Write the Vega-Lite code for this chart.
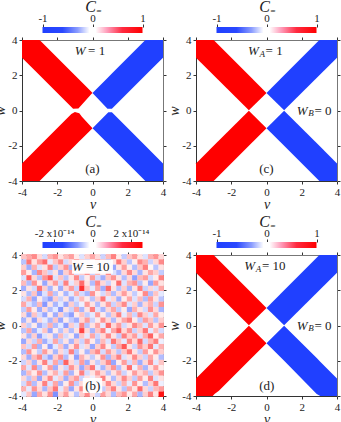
{"$schema":"https://vega.github.io/schema/vega-lite/v6.json","padding":{"left":-7,"top":-2,"right":0,"bottom":0},"background":"white","bounds":"flush","columns":2,"spacing":{"row":74,"column":33},"resolve":{"scale":{"color":"independent"}},
"config":{"view":{"stroke":null},"font":"Liberation Serif","text":{"font":"Liberation Serif","fontSize":13,"color":"#222"},"axis":{"labelFont":"Liberation Serif","titleFont":"Liberation Serif","labelFontSize":11,"labelColor":"#222","grid":false,"tickColor":"#333","domainColor":"#333","titleColor":"#222","titleFontWeight":"normal","labelFlush":false,"labelOverlap":false,"zindex":1}},
"datasets":{
"bar1":[{"lo":-1,"hi":1}],
"bar2":[{"lo":-2.6,"hi":2.6}],
"armsA":[{"arm":"UL","c":1,"v":-4,"lo":3,"hi":4},{"arm":"UL","c":1,"v":-3,"lo":2,"hi":4},{"arm":"UL","c":1,"v":-1.1,"lo":0.1,"hi":2.1},{"arm":"UL","c":1,"v":-0.8,"lo":0.12,"hi":1.8},{"arm":"UL","c":1,"v":-0.05,"lo":0.95,"hi":1.05},{"arm":"UL","c":1,"v":0,"lo":1,"hi":1},
{"arm":"LL","c":1,"v":-4,"lo":-4,"hi":-3},{"arm":"LL","c":1,"v":-3,"lo":-4,"hi":-2},{"arm":"LL","c":1,"v":-1.2,"lo":-2.2,"hi":-0.2},{"arm":"LL","c":1,"v":-1,"lo":-2,"hi":-0.08},{"arm":"LL","c":1,"v":-0.75,"lo":-1.75,"hi":-0.15},{"arm":"LL","c":1,"v":-0.6,"lo":-1.6,"hi":-0.35},{"arm":"LL","c":1,"v":0,"lo":-1,"hi":-1},
{"arm":"UR","c":-1,"v":0,"lo":1,"hi":1},{"arm":"UR","c":-1,"v":0.85,"lo":0.1,"hi":1.85},{"arm":"UR","c":-1,"v":1.1,"lo":0.1,"hi":2.1},{"arm":"UR","c":-1,"v":3,"lo":2,"hi":4},{"arm":"UR","c":-1,"v":4,"lo":3,"hi":4},
{"arm":"LR","c":-1,"v":0,"lo":-1,"hi":-1},{"arm":"LR","c":-1,"v":0.9,"lo":-1.9,"hi":-0.1},{"arm":"LR","c":-1,"v":1.1,"lo":-2.1,"hi":-0.1},{"arm":"LR","c":-1,"v":3,"lo":-4,"hi":-2},{"arm":"LR","c":-1,"v":4,"lo":-4,"hi":-3}],
"armsC":[{"arm":"UL","c":1,"v":-4,"lo":3,"hi":4},{"arm":"UL","c":1,"v":-3,"lo":2,"hi":4},{"arm":"UL","c":1,"v":-1,"lo":0.02,"hi":2},{"arm":"UL","c":1,"v":0,"lo":1,"hi":1},
{"arm":"LL","c":1,"v":-4,"lo":-4,"hi":-3},{"arm":"LL","c":1,"v":-3,"lo":-4,"hi":-2},{"arm":"LL","c":1,"v":-1,"lo":-2,"hi":-0.02},{"arm":"LL","c":1,"v":0,"lo":-1,"hi":-1},
{"arm":"UR","c":-1,"v":0,"lo":1,"hi":1},{"arm":"UR","c":-1,"v":1,"lo":0.02,"hi":2},{"arm":"UR","c":-1,"v":3,"lo":2,"hi":4},{"arm":"UR","c":-1,"v":4,"lo":3,"hi":4},
{"arm":"LR","c":-1,"v":0,"lo":-1,"hi":-1},{"arm":"LR","c":-1,"v":1,"lo":-2,"hi":-0.02},{"arm":"LR","c":-1,"v":3,"lo":-4,"hi":-2},{"arm":"LR","c":-1,"v":4,"lo":-4,"hi":-3}],
"armsD":[{"arm":"UL","c":1,"v":-4,"lo":3,"hi":4},{"arm":"UL","c":1,"v":-3,"lo":2,"hi":4},{"arm":"UL","c":1,"v":-1,"lo":0.02,"hi":2},{"arm":"UL","c":1,"v":0,"lo":1,"hi":1},
{"arm":"LL","c":1,"v":-4,"lo":-4,"hi":-3},{"arm":"LL","c":1,"v":-3.05,"lo":-4,"hi":-2.05},{"arm":"LL","c":1,"v":-2.95,"lo":-3.88,"hi":-1.95},{"arm":"LL","c":1,"v":-2.7,"lo":-3.7,"hi":-1.7},{"arm":"LL","c":1,"v":-1,"lo":-2,"hi":-0.02},{"arm":"LL","c":1,"v":0,"lo":-1,"hi":-1},
{"arm":"UR","c":-1,"v":0,"lo":1,"hi":1},{"arm":"UR","c":-1,"v":1,"lo":0.02,"hi":2},{"arm":"UR","c":-1,"v":3,"lo":2,"hi":4},{"arm":"UR","c":-1,"v":4,"lo":3,"hi":4},
{"arm":"LR","c":-1,"v":0,"lo":-1,"hi":-1},{"arm":"LR","c":-1,"v":1,"lo":-2,"hi":-0.02},{"arm":"LR","c":-1,"v":2.85,"lo":-3.88,"hi":-1.85},{"arm":"LR","c":-1,"v":3.05,"lo":-4,"hi":-2.05},{"arm":"LR","c":-1,"v":4,"lo":-4,"hi":-3}],
"labels":[
{"p":"a","k":"i","v":-0.7,"w":3.38,"t":"W"},{"p":"a","k":"u","v":-0.25,"w":3.38,"t":"= 1"},{"p":"a","k":"u","v":-0.41,"w":-3.32,"t":"(a)"},
{"p":"c","k":"i","v":-0.74,"w":3.38,"t":"W"},{"p":"c","k":"s","v":-0.4,"w":3.22,"t":"A"},{"p":"c","k":"u","v":-0.05,"w":3.38,"t":"= 1"},{"p":"c","k":"i","v":2.03,"w":0,"t":"W"},{"p":"c","k":"s","v":2.37,"w":-0.16,"t":"B"},{"p":"c","k":"u","v":2.72,"w":0,"t":"= 0"},{"p":"c","k":"u","v":-0.41,"w":-3.32,"t":"(c)"},
{"p":"b","k":"i","v":-0.85,"w":3.34,"t":"W"},{"p":"b","k":"u","v":-0.37,"w":3.34,"t":"= 10"},{"p":"b","k":"u","v":-0.41,"w":-3.43,"t":"(b)"},
{"p":"d","k":"i","v":-0.95,"w":3.38,"t":"W"},{"p":"d","k":"s","v":-0.61,"w":3.22,"t":"A"},{"p":"d","k":"u","v":-0.26,"w":3.38,"t":"= 10"},{"p":"d","k":"i","v":2.03,"w":0,"t":"W"},{"p":"d","k":"s","v":2.37,"w":-0.16,"t":"B"},{"p":"d","k":"u","v":2.72,"w":0,"t":"= 0"},{"p":"d","k":"u","v":-0.41,"w":-3.43,"t":"(d)"}],
"boxes":[{"a":-1.16,"b":1.16,"l":2.93,"h":3.72},{"a":-0.55,"b":0.55,"l":-3.83,"h":-2.98}],
"noise":[
{"v":-3.9,"w":3.9,"c":0.6},{"v":-3.6,"w":3.9,"c":0.9},{"v":-3.3,"w":3.9,"c":1.2},{"v":-3,"w":3.9,"c":0.4},{"v":-2.7,"w":3.9,"c":-0.5},{"v":-2.4,"w":3.9,"c":0.8},{"v":-2.1,"w":3.9,"c":1.1},{"v":-1.8,"w":3.9,"c":0.3},{"v":-1.5,"w":3.9,"c":0.7},{"v":-1.2,"w":3.9,"c":1},{"v":-0.9,"w":3.9,"c":0.2},{"v":-0.6,"w":3.9,"c":-0.4},{"v":-0.3,"w":3.9,"c":0.5},{"v":0,"w":3.9,"c":0.9},{"v":0.3,"w":3.9,"c":0.4},{"v":0.6,"w":3.9,"c":-0.6},{"v":0.9,"w":3.9,"c":0.7},{"v":1.2,"w":3.9,"c":1.3},{"v":1.5,"w":3.9,"c":0.2},{"v":1.8,"w":3.9,"c":-0.7},{"v":2.1,"w":3.9,"c":0.6},{"v":2.4,"w":3.9,"c":1},{"v":2.7,"w":3.9,"c":0.3},{"v":3,"w":3.9,"c":-0.4},{"v":3.3,"w":3.9,"c":0.8},{"v":3.6,"w":3.9,"c":1.1},{"v":3.9,"w":3.9,"c":0.4},
{"v":-3.9,"w":3.6,"c":-0.8},{"v":-3.6,"w":3.6,"c":1.4},{"v":-3.3,"w":3.6,"c":0.3},{"v":-3,"w":3.6,"c":1},{"v":-2.7,"w":3.6,"c":1.5},{"v":-2.4,"w":3.6,"c":-0.3},{"v":-2.1,"w":3.6,"c":0.6},{"v":-1.8,"w":3.6,"c":1.2},{"v":-1.5,"w":3.6,"c":-0.5},{"v":-1.2,"w":3.6,"c":0.4},{"v":-0.9,"w":3.6,"c":1.3},{"v":-0.6,"w":3.6,"c":0.6},{"v":-0.3,"w":3.6,"c":-0.6},{"v":0,"w":3.6,"c":0.3},{"v":0.3,"w":3.6,"c":1.1},{"v":0.6,"w":3.6,"c":0.7},{"v":0.9,"w":3.6,"c":-0.9},{"v":1.2,"w":3.6,"c":0.3},{"v":1.5,"w":3.6,"c":1.4},{"v":1.8,"w":3.6,"c":0.5},{"v":2.1,"w":3.6,"c":-0.8},{"v":2.4,"w":3.6,"c":0.2},{"v":2.7,"w":3.6,"c":1.2},{"v":3,"w":3.6,"c":0.8},{"v":3.3,"w":3.6,"c":-0.6},{"v":3.6,"w":3.6,"c":0.4},{"v":3.9,"w":3.6,"c":1.2},
{"v":-3.9,"w":3.3,"c":0.5},{"v":-3.6,"w":3.3,"c":-1.1},{"v":-3.3,"w":3.3,"c":0.8},{"v":-3,"w":3.3,"c":-0.4},{"v":-2.7,"w":3.3,"c":0.3},{"v":-2.4,"w":3.3,"c":1.3},{"v":-2.1,"w":3.3,"c":-0.7},{"v":-1.8,"w":3.3,"c":0.5},{"v":-1.5,"w":3.3,"c":1.1},{"v":-1.2,"w":3.3,"c":-1},{"v":-0.9,"w":3.3,"c":0.2},{"v":-0.6,"w":3.3,"c":0.9},{"v":-0.3,"w":3.3,"c":-0.3},{"v":0,"w":3.3,"c":0.6},{"v":0.3,"w":3.3,"c":-0.5},{"v":0.6,"w":3.3,"c":1},{"v":0.9,"w":3.3,"c":0.4},{"v":1.2,"w":3.3,"c":-1.2},{"v":1.5,"w":3.3,"c":0.3},{"v":1.8,"w":3.3,"c":1},{"v":2.1,"w":3.3,"c":0.2},{"v":2.4,"w":3.3,"c":-0.9},{"v":2.7,"w":3.3,"c":0.6},{"v":3,"w":3.3,"c":1.3},{"v":3.3,"w":3.3,"c":0.1},{"v":3.6,"w":3.3,"c":-0.8},{"v":3.9,"w":3.3,"c":0.3},
{"v":-3.9,"w":3,"c":1},{"v":-3.6,"w":3,"c":0.2},{"v":-3.3,"w":3,"c":-1},{"v":-3,"w":3,"c":1.2},{"v":-2.7,"w":3,"c":0.6},{"v":-2.4,"w":3,"c":-0.6},{"v":-2.1,"w":3,"c":0.3},{"v":-1.8,"w":3,"c":-1.2},{"v":-1.5,"w":3,"c":0.5},{"v":-1.2,"w":3,"c":1},{"v":-0.9,"w":3,"c":-0.4},{"v":-0.6,"w":3,"c":0.5},{"v":-0.3,"w":3,"c":1.1},{"v":0,"w":3,"c":-0.6},{"v":0.3,"w":3,"c":0.8},{"v":0.6,"w":3,"c":0.2},{"v":0.9,"w":3,"c":1.2},{"v":1.2,"w":3,"c":-0.4},{"v":1.5,"w":3,"c":-1},{"v":1.8,"w":3,"c":0.4},{"v":2.1,"w":3,"c":1.2},{"v":2.4,"w":3,"c":0.4},{"v":2.7,"w":3,"c":-1},{"v":3,"w":3,"c":0.3},{"v":3.3,"w":3,"c":0.9},{"v":3.6,"w":3,"c":0.5},{"v":3.9,"w":3,"c":-0.7},
{"v":-3.9,"w":2.7,"c":-0.4},{"v":-3.6,"w":2.7,"c":1.6},{"v":-3.3,"w":2.7,"c":0.4},{"v":-3,"w":2.7,"c":-0.8},{"v":-2.7,"w":2.7,"c":1.1},{"v":-2.4,"w":2.7,"c":1.7},{"v":-2.1,"w":2.7,"c":-0.4},{"v":-1.8,"w":2.7,"c":0.6},{"v":-1.5,"w":2.7,"c":-0.8},{"v":-1.2,"w":2.7,"c":0.3},{"v":-0.9,"w":2.7,"c":1.2},{"v":-0.6,"w":2.7,"c":-0.7},{"v":-0.3,"w":2.7,"c":0.2},{"v":0,"w":2.7,"c":1},{"v":0.3,"w":2.7,"c":-0.5},{"v":0.6,"w":2.7,"c":-1.1},{"v":0.9,"w":2.7,"c":0.6},{"v":1.2,"w":2.7,"c":1.1},{"v":1.5,"w":2.7,"c":0.3},{"v":1.8,"w":2.7,"c":-0.9},{"v":2.1,"w":2.7,"c":0.4},{"v":2.4,"w":2.7,"c":-1.3},{"v":2.7,"w":2.7,"c":0.7},{"v":3,"w":2.7,"c":1},{"v":3.3,"w":2.7,"c":-0.5},{"v":3.6,"w":2.7,"c":0.2},{"v":3.9,"w":2.7,"c":1.3},
{"v":-3.9,"w":2.4,"c":0.7},{"v":-3.6,"w":2.4,"c":-0.9},{"v":-3.3,"w":2.4,"c":1.1},{"v":-3,"w":2.4,"c":0.2},{"v":-2.7,"w":2.4,"c":-1.2},{"v":-2.4,"w":2.4,"c":0.4},{"v":-2.1,"w":2.4,"c":1},{"v":-1.8,"w":2.4,"c":-0.5},{"v":-1.5,"w":2.4,"c":1.3},{"v":-1.2,"w":2.4,"c":-0.3},{"v":-0.9,"w":2.4,"c":0.5},{"v":-0.6,"w":2.4,"c":1.5},{"v":-0.3,"w":2.4,"c":0.3},{"v":0,"w":2.4,"c":-0.9},{"v":0.3,"w":2.4,"c":1.2},{"v":0.6,"w":2.4,"c":0.4},{"v":0.9,"w":2.4,"c":-0.6},{"v":1.2,"w":2.4,"c":0.2},{"v":1.5,"w":2.4,"c":1.5},{"v":1.8,"w":2.4,"c":-0.4},{"v":2.1,"w":2.4,"c":0.8},{"v":2.4,"w":2.4,"c":1.1},{"v":2.7,"w":2.4,"c":-0.8},{"v":3,"w":2.4,"c":0.2},{"v":3.3,"w":2.4,"c":-1.2},{"v":3.6,"w":2.4,"c":1},{"v":3.9,"w":2.4,"c":0.3},
{"v":-3.9,"w":2.1,"c":-1.1},{"v":-3.6,"w":2.1,"c":0.3},{"v":-3.3,"w":2.1,"c":-0.5},{"v":-3,"w":2.1,"c":1.4},{"v":-2.7,"w":2.1,"c":0.5},{"v":-2.4,"w":2.1,"c":-1},{"v":-2.1,"w":2.1,"c":0.2},{"v":-1.8,"w":2.1,"c":-1.1},{"v":-1.5,"w":2.1,"c":0.4},{"v":-1.2,"w":2.1,"c":1},{"v":-0.9,"w":2.1,"c":-0.6},{"v":-0.6,"w":2.1,"c":2.1},{"v":-0.3,"w":2.1,"c":0.6},{"v":0,"w":2.1,"c":-0.3},{"v":0.3,"w":2.1,"c":0.9},{"v":0.6,"w":2.1,"c":-1.1},{"v":0.9,"w":2.1,"c":1.5},{"v":1.2,"w":2.1,"c":0.3},{"v":1.5,"w":2.1,"c":-0.8},{"v":1.8,"w":2.1,"c":0.5},{"v":2.1,"w":2.1,"c":-1},{"v":2.4,"w":2.1,"c":0.3},{"v":2.7,"w":2.1,"c":1.3},{"v":3,"w":2.1,"c":-0.6},{"v":3.3,"w":2.1,"c":0.4},{"v":3.6,"w":2.1,"c":-0.4},{"v":3.9,"w":2.1,"c":0.9},
{"v":-3.9,"w":1.8,"c":0.3},{"v":-3.6,"w":1.8,"c":-0.9},{"v":-3.3,"w":1.8,"c":0.6},{"v":-3,"w":1.8,"c":-1.3},{"v":-2.7,"w":1.8,"c":-0.4},{"v":-2.4,"w":1.8,"c":0.9},{"v":-2.1,"w":1.8,"c":-0.8},{"v":-1.8,"w":1.8,"c":0.2},{"v":-1.5,"w":1.8,"c":-1},{"v":-1.2,"w":1.8,"c":-0.3},{"v":-0.9,"w":1.8,"c":0.8},{"v":-0.6,"w":1.8,"c":-0.5},{"v":-0.3,"w":1.8,"c":-1},{"v":0,"w":1.8,"c":1.1},{"v":0.3,"w":1.8,"c":0.2},{"v":0.6,"w":1.8,"c":-0.5},{"v":0.9,"w":1.8,"c":0.6},{"v":1.2,"w":1.8,"c":-0.9},{"v":1.5,"w":1.8,"c":0.4},{"v":1.8,"w":1.8,"c":1},{"v":2.1,"w":1.8,"c":0.3},{"v":2.4,"w":1.8,"c":-0.7},{"v":2.7,"w":1.8,"c":0.2},{"v":3,"w":1.8,"c":1.2},{"v":3.3,"w":1.8,"c":-0.9},{"v":3.6,"w":1.8,"c":0.6},{"v":3.9,"w":1.8,"c":-0.3},
{"v":-3.9,"w":1.5,"c":-0.5},{"v":-3.6,"w":1.5,"c":0.8},{"v":-3.3,"w":1.5,"c":-1.2},{"v":-3,"w":1.5,"c":0.2},{"v":-2.7,"w":1.5,"c":-0.8},{"v":-2.4,"w":1.5,"c":-1.3},{"v":-2.1,"w":1.5,"c":0.5},{"v":-1.8,"w":1.5,"c":-0.6},{"v":-1.5,"w":1.5,"c":0.3},{"v":-1.2,"w":1.5,"c":-1.1},{"v":-0.9,"w":1.5,"c":-0.4},{"v":-0.6,"w":1.5,"c":0.7},{"v":-0.3,"w":1.5,"c":0.2},{"v":0,"w":1.5,"c":-0.8},{"v":0.3,"w":1.5,"c":0.5},{"v":0.6,"w":1.5,"c":1.4},{"v":0.9,"w":1.5,"c":-0.3},{"v":1.2,"w":1.5,"c":0.4},{"v":1.5,"w":1.5,"c":-1.1},{"v":1.8,"w":1.5,"c":0.2},{"v":2.1,"w":1.5,"c":0.9},{"v":2.4,"w":1.5,"c":-0.4},{"v":2.7,"w":1.5,"c":0.7},{"v":3,"w":1.5,"c":-0.9},{"v":3.3,"w":1.5,"c":1},{"v":3.6,"w":1.5,"c":0.3},{"v":3.9,"w":1.5,"c":-0.8},
{"v":-3.9,"w":1.2,"c":0.9},{"v":-3.6,"w":1.2,"c":-0.4},{"v":-3.3,"w":1.2,"c":-0.9},{"v":-3,"w":1.2,"c":0.7},{"v":-2.7,"w":1.2,"c":-1.4},{"v":-2.4,"w":1.2,"c":0.3},{"v":-2.1,"w":1.2,"c":-1},{"v":-1.8,"w":1.2,"c":-0.3},{"v":-1.5,"w":1.2,"c":-1.2},{"v":-1.2,"w":1.2,"c":0.5},{"v":-0.9,"w":1.2,"c":-0.7},{"v":-0.6,"w":1.2,"c":-0.2},{"v":-0.3,"w":1.2,"c":1},{"v":0,"w":1.2,"c":0.3},{"v":0.3,"w":1.2,"c":-0.9},{"v":0.6,"w":1.2,"c":0.3},{"v":0.9,"w":1.2,"c":1},{"v":1.2,"w":1.2,"c":-0.6},{"v":1.5,"w":1.2,"c":0.6},{"v":1.8,"w":1.2,"c":1.2},{"v":2.1,"w":1.2,"c":-0.4},{"v":2.4,"w":1.2,"c":0.5},{"v":2.7,"w":1.2,"c":-1},{"v":3,"w":1.2,"c":0.4},{"v":3.3,"w":1.2,"c":0.8},{"v":3.6,"w":1.2,"c":-0.6},{"v":3.9,"w":1.2,"c":1.1},
{"v":-3.9,"w":0.9,"c":-0.7},{"v":-3.6,"w":0.9,"c":1},{"v":-3.3,"w":0.9,"c":0.2},{"v":-3,"w":0.9,"c":-1.1},{"v":-2.7,"w":0.9,"c":0.4},{"v":-2.4,"w":0.9,"c":-0.9},{"v":-2.1,"w":0.9,"c":-0.3},{"v":-1.8,"w":0.9,"c":-1.4},{"v":-1.5,"w":0.9,"c":0.3},{"v":-1.2,"w":0.9,"c":-0.6},{"v":-0.9,"w":0.9,"c":0.9},{"v":-0.6,"w":0.9,"c":-1},{"v":-0.3,"w":0.9,"c":0.3},{"v":0,"w":0.9,"c":1.3},{"v":0.3,"w":0.9,"c":-0.4},{"v":0.6,"w":0.9,"c":-1},{"v":0.9,"w":0.9,"c":0.4},{"v":1.2,"w":0.9,"c":0.9},{"v":1.5,"w":0.9,"c":-0.7},{"v":1.8,"w":0.9,"c":0.2},{"v":2.1,"w":0.9,"c":-1.2},{"v":2.4,"w":0.9,"c":0.8},{"v":2.7,"w":0.9,"c":0.3},{"v":3,"w":0.9,"c":-0.5},{"v":3.3,"w":0.9,"c":1.1},{"v":3.6,"w":0.9,"c":0.4},{"v":3.9,"w":0.9,"c":-1},
{"v":-3.9,"w":0.6,"c":0.4},{"v":-3.6,"w":0.6,"c":-1.2},{"v":-3.3,"w":0.6,"c":0.6},{"v":-3,"w":0.6,"c":-0.5},{"v":-2.7,"w":0.6,"c":-1.2},{"v":-2.4,"w":0.6,"c":0.2},{"v":-2.1,"w":0.6,"c":-1.1},{"v":-1.8,"w":0.6,"c":0.5},{"v":-1.5,"w":0.6,"c":-0.8},{"v":-1.2,"w":0.6,"c":-1.3},{"v":-0.9,"w":0.6,"c":0.2},{"v":-0.6,"w":0.6,"c":0.6},{"v":-0.3,"w":0.6,"c":-0.7},{"v":0,"w":0.6,"c":-0.3},{"v":0.3,"w":0.6,"c":1},{"v":0.6,"w":0.6,"c":0.2},{"v":0.9,"w":0.6,"c":-0.8},{"v":1.2,"w":0.6,"c":0.5},{"v":1.5,"w":0.6,"c":1.3},{"v":1.8,"w":0.6,"c":-0.3},{"v":2.1,"w":0.6,"c":0.7},{"v":2.4,"w":0.6,"c":-0.6},{"v":2.7,"w":0.6,"c":1.2},{"v":3,"w":0.6,"c":0.5},{"v":3.3,"w":0.6,"c":-0.4},{"v":3.6,"w":0.6,"c":0.9},{"v":3.9,"w":0.6,"c":0.2},
{"v":-3.9,"w":0.3,"c":-1},{"v":-3.6,"w":0.3,"c":0.3},{"v":-3.3,"w":0.3,"c":-1.3},{"v":-3,"w":0.3,"c":0.4},{"v":-2.7,"w":0.3,"c":-0.3},{"v":-2.4,"w":0.3,"c":-1},{"v":-2.1,"w":0.3,"c":0.6},{"v":-1.8,"w":0.3,"c":-1.2},{"v":-1.5,"w":0.3,"c":0.2},{"v":-1.2,"w":0.3,"c":-0.7},{"v":-0.9,"w":0.3,"c":-1.1},{"v":-0.6,"w":0.3,"c":0.4},{"v":-0.3,"w":0.3,"c":1},{"v":0,"w":0.3,"c":-0.6},{"v":0.3,"w":0.3,"c":0.2},{"v":0.6,"w":0.3,"c":1.1},{"v":0.9,"w":0.3,"c":0.4},{"v":1.2,"w":0.3,"c":-0.9},{"v":1.5,"w":0.3,"c":0.3},{"v":1.8,"w":0.3,"c":0.9},{"v":2.1,"w":0.3,"c":1.3},{"v":2.4,"w":0.3,"c":0.2},{"v":2.7,"w":0.3,"c":-0.7},{"v":3,"w":0.3,"c":1},{"v":3.3,"w":0.3,"c":0.6},{"v":3.6,"w":0.3,"c":-0.8},{"v":3.9,"w":0.3,"c":0.5},
{"v":-3.9,"w":0,"c":0.5},{"v":-3.6,"w":0,"c":-0.7},{"v":-3.3,"w":0,"c":0.2},{"v":-3,"w":0,"c":-1.1},{"v":-2.7,"w":0,"c":-0.6},{"v":-2.4,"w":0,"c":0.8},{"v":-2.1,"w":0,"c":-0.9},{"v":-1.8,"w":0,"c":-0.3},{"v":-1.5,"w":0,"c":-1.3},{"v":-1.2,"w":0,"c":0.5},{"v":-0.9,"w":0,"c":-0.4},{"v":-0.6,"w":0,"c":1.2},{"v":-0.3,"w":0,"c":-0.8},{"v":0,"w":0,"c":0.3},{"v":0.3,"w":0,"c":0.9},{"v":0.6,"w":0,"c":-0.3},{"v":0.9,"w":0,"c":1.5},{"v":1.2,"w":0,"c":0.4},{"v":1.5,"w":0,"c":1},{"v":1.8,"w":0,"c":-0.5},{"v":2.1,"w":0,"c":0.3},{"v":2.4,"w":0,"c":1.2},{"v":2.7,"w":0,"c":0.7},{"v":3,"w":0,"c":-0.4},{"v":3.3,"w":0,"c":1},{"v":3.6,"w":0,"c":0.3},{"v":3.9,"w":0,"c":1.1},
{"v":-3.9,"w":-0.3,"c":-0.8},{"v":-3.6,"w":-0.3,"c":0.9},{"v":-3.3,"w":-0.3,"c":-1.1},{"v":-3,"w":-0.3,"c":-0.3},{"v":-2.7,"w":-0.3,"c":0.6},{"v":-2.4,"w":-0.3,"c":-1.2},{"v":-2.1,"w":-0.3,"c":0.2},{"v":-1.8,"w":-0.3,"c":-0.8},{"v":-1.5,"w":-0.3,"c":0.4},{"v":-1.2,"w":-0.3,"c":-0.9},{"v":-0.9,"w":-0.3,"c":0.3},{"v":-0.6,"w":-0.3,"c":1.9},{"v":-0.3,"w":-0.3,"c":0.4},{"v":0,"w":-0.3,"c":-1},{"v":0.3,"w":-0.3,"c":0.6},{"v":0.6,"w":-0.3,"c":1.3},{"v":0.9,"w":-0.3,"c":-0.2},{"v":1.2,"w":-0.3,"c":0.9},{"v":1.5,"w":-0.3,"c":1.6},{"v":1.8,"w":-0.3,"c":0.4},{"v":2.1,"w":-0.3,"c":1.1},{"v":2.4,"w":-0.3,"c":-0.6},{"v":2.7,"w":-0.3,"c":0.5},{"v":3,"w":-0.3,"c":1.4},{"v":3.3,"w":-0.3,"c":-0.3},{"v":3.6,"w":-0.3,"c":0.7},{"v":3.9,"w":-0.3,"c":-0.5},
{"v":-3.9,"w":-0.6,"c":0.3},{"v":-3.6,"w":-0.6,"c":-1},{"v":-3.3,"w":-0.6,"c":0.5},{"v":-3,"w":-0.6,"c":-1.3},{"v":-2.7,"w":-0.6,"c":-0.4},{"v":-2.4,"w":-0.6,"c":0.3},{"v":-2.1,"w":-0.6,"c":-1},{"v":-1.8,"w":-0.6,"c":0.7},{"v":-1.5,"w":-0.6,"c":-0.5},{"v":-1.2,"w":-0.6,"c":0.2},{"v":-0.9,"w":-0.6,"c":-1.2},{"v":-0.6,"w":-0.6,"c":0.6},{"v":-0.3,"w":-0.6,"c":-0.3},{"v":0,"w":-0.6,"c":0.9},{"v":0.3,"w":-0.6,"c":-0.6},{"v":0.6,"w":-0.6,"c":0.4},{"v":0.9,"w":-0.6,"c":1.2},{"v":1.2,"w":-0.6,"c":0.3},{"v":1.5,"w":-0.6,"c":-0.7},{"v":1.8,"w":-0.6,"c":1.3},{"v":2.1,"w":-0.6,"c":0.5},{"v":2.4,"w":-0.6,"c":1},{"v":2.7,"w":-0.6,"c":-0.4},{"v":3,"w":-0.6,"c":0.8},{"v":3.3,"w":-0.6,"c":1.6},{"v":3.6,"w":-0.6,"c":0.2},{"v":3.9,"w":-0.6,"c":0.9},
{"v":-3.9,"w":-0.9,"c":-1.2},{"v":-3.6,"w":-0.9,"c":0.4},{"v":-3.3,"w":-0.9,"c":-0.6},{"v":-3,"w":-0.9,"c":0.8},{"v":-2.7,"w":-0.9,"c":-1.1},{"v":-2.4,"w":-0.9,"c":-0.4},{"v":-2.1,"w":-0.9,"c":0.9},{"v":-1.8,"w":-0.9,"c":-0.7},{"v":-1.5,"w":-0.9,"c":0.3},{"v":-1.2,"w":-0.9,"c":-1},{"v":-0.9,"w":-0.9,"c":0.5},{"v":-0.6,"w":-0.9,"c":-0.6},{"v":-0.3,"w":-0.9,"c":1},{"v":0,"w":-0.9,"c":0.2},{"v":0.3,"w":-0.9,"c":-0.9},{"v":0.6,"w":-0.9,"c":0.7},{"v":0.9,"w":-0.9,"c":-0.4},{"v":1.2,"w":-0.9,"c":1.4},{"v":1.5,"w":-0.9,"c":0.6},{"v":1.8,"w":-0.9,"c":-0.3},{"v":2.1,"w":-0.9,"c":1.2},{"v":2.4,"w":-0.9,"c":0.4},{"v":2.7,"w":-0.9,"c":1.5},{"v":3,"w":-0.9,"c":-0.5},{"v":3.3,"w":-0.9,"c":0.7},{"v":3.6,"w":-0.9,"c":1.3},{"v":3.9,"w":-0.9,"c":-0.2},
{"v":-3.9,"w":-1.2,"c":0.6},{"v":-3.6,"w":-1.2,"c":-0.5},{"v":-3.3,"w":-1.2,"c":1},{"v":-3,"w":-1.2,"c":-1},{"v":-2.7,"w":-1.2,"c":0.2},{"v":-2.4,"w":-1.2,"c":-1.3},{"v":-2.1,"w":-1.2,"c":-0.3},{"v":-1.8,"w":-1.2,"c":0.6},{"v":-1.5,"w":-1.2,"c":-1.1},{"v":-1.2,"w":-1.2,"c":0.3},{"v":-0.9,"w":-1.2,"c":1.1},{"v":-0.6,"w":-1.2,"c":-0.4},{"v":-0.3,"w":-1.2,"c":0.4},{"v":0,"w":-1.2,"c":-1.2},{"v":0.3,"w":-1.2,"c":0.5},{"v":0.6,"w":-1.2,"c":1.2},{"v":0.9,"w":-1.2,"c":0.2},{"v":1.2,"w":-1.2,"c":-0.7},{"v":1.5,"w":-1.2,"c":0.9},{"v":1.8,"w":-1.2,"c":1.7},{"v":2.1,"w":-1.2,"c":0.3},{"v":2.4,"w":-1.2,"c":-0.6},{"v":2.7,"w":-1.2,"c":1.1},{"v":3,"w":-1.2,"c":0.5},{"v":3.3,"w":-1.2,"c":1.4},{"v":3.6,"w":-1.2,"c":-0.3},{"v":3.9,"w":-1.2,"c":0.8},
{"v":-3.9,"w":-1.5,"c":-0.9},{"v":-3.6,"w":-1.5,"c":1.1},{"v":-3.3,"w":-1.5,"c":0.2},{"v":-3,"w":-1.5,"c":-0.7},{"v":-2.7,"w":-1.5,"c":1},{"v":-2.4,"w":-1.5,"c":0.3},{"v":-2.1,"w":-1.5,"c":-1},{"v":-1.8,"w":-1.5,"c":0.4},{"v":-1.5,"w":-1.5,"c":-0.5},{"v":-1.2,"w":-1.5,"c":1.3},{"v":-0.9,"w":-1.5,"c":-0.8},{"v":-0.6,"w":-1.5,"c":0.2},{"v":-0.3,"w":-1.5,"c":-1},{"v":0,"w":-1.5,"c":0.7},{"v":0.3,"w":-1.5,"c":1.2},{"v":0.6,"w":-1.5,"c":-0.5},{"v":0.9,"w":-1.5,"c":1},{"v":1.2,"w":-1.5,"c":0.4},{"v":1.5,"w":-1.5,"c":-0.8},{"v":1.8,"w":-1.5,"c":0.6},{"v":2.1,"w":-1.5,"c":1.4},{"v":2.4,"w":-1.5,"c":0.3},{"v":2.7,"w":-1.5,"c":-0.7},{"v":3,"w":-1.5,"c":1},{"v":3.3,"w":-1.5,"c":0.2},{"v":3.6,"w":-1.5,"c":1.1},{"v":3.9,"w":-1.5,"c":0.5},
{"v":-3.9,"w":-1.8,"c":0.4},{"v":-3.6,"w":-1.8,"c":-1.1},{"v":-3.3,"w":-1.8,"c":0.7},{"v":-3,"w":-1.8,"c":1.2},{"v":-2.7,"w":-1.8,"c":-0.6},{"v":-2.4,"w":-1.8,"c":-1.2},{"v":-2.1,"w":-1.8,"c":0.5},{"v":-1.8,"w":-1.8,"c":1.1},{"v":-1.5,"w":-1.8,"c":-0.9},{"v":-1.2,"w":-1.8,"c":0.2},{"v":-0.9,"w":-1.8,"c":-1.3},{"v":-0.6,"w":-1.8,"c":0.8},{"v":-0.3,"w":-1.8,"c":0.3},{"v":0,"w":-1.8,"c":-0.7},{"v":0.3,"w":-1.8,"c":0.2},{"v":0.6,"w":-1.8,"c":1.1},{"v":0.9,"w":-1.8,"c":-1},{"v":1.2,"w":-1.8,"c":0.6},{"v":1.5,"w":-1.8,"c":1.3},{"v":1.8,"w":-1.8,"c":-0.4},{"v":2.1,"w":-1.8,"c":0.3},{"v":2.4,"w":-1.8,"c":1.2},{"v":2.7,"w":-1.8,"c":0.5},{"v":3,"w":-1.8,"c":-0.6},{"v":3.3,"w":-1.8,"c":0.9},{"v":3.6,"w":-1.8,"c":0.2},{"v":3.9,"w":-1.8,"c":-0.9},
{"v":-3.9,"w":-2.1,"c":-0.6},{"v":-3.6,"w":-2.1,"c":0.5},{"v":-3.3,"w":-2.1,"c":-1},{"v":-3,"w":-2.1,"c":0.3},{"v":-2.7,"w":-2.1,"c":1.3},{"v":-2.4,"w":-2.1,"c":-0.4},{"v":-2.1,"w":-2.1,"c":0.9},{"v":-1.8,"w":-2.1,"c":-0.8},{"v":-1.5,"w":-2.1,"c":1.6},{"v":-1.2,"w":-2.1,"c":0.4},{"v":-0.9,"w":-2.1,"c":-0.5},{"v":-0.6,"w":-2.1,"c":1},{"v":-0.3,"w":-2.1,"c":-1.1},{"v":0,"w":-2.1,"c":0.3},{"v":0.3,"w":-2.1,"c":-0.7},{"v":0.6,"w":-2.1,"c":0.5},{"v":0.9,"w":-2.1,"c":1.2},{"v":1.2,"w":-2.1,"c":-1.2},{"v":1.5,"w":-2.1,"c":0.2},{"v":1.8,"w":-2.1,"c":1},{"v":2.1,"w":-2.1,"c":-0.5},{"v":2.4,"w":-2.1,"c":0.7},{"v":2.7,"w":-2.1,"c":-1.1},{"v":3,"w":-2.1,"c":0.4},{"v":3.3,"w":-2.1,"c":1.2},{"v":3.6,"w":-2.1,"c":-0.3},{"v":3.9,"w":-2.1,"c":0.6},
{"v":-3.9,"w":-2.4,"c":0.9},{"v":-3.6,"w":-2.4,"c":-0.4},{"v":-3.3,"w":-2.4,"c":1.2},{"v":-3,"w":-2.4,"c":-0.8},{"v":-2.7,"w":-2.4,"c":0.2},{"v":-2.4,"w":-2.4,"c":1},{"v":-2.1,"w":-2.4,"c":-1.1},{"v":-1.8,"w":-2.4,"c":0.3},{"v":-1.5,"w":-2.4,"c":-0.6},{"v":-1.2,"w":-2.4,"c":1.1},{"v":-0.9,"w":-2.4,"c":0.4},{"v":-0.6,"w":-2.4,"c":-1.2},{"v":-0.3,"w":-2.4,"c":0.7},{"v":0,"w":-2.4,"c":1.4},{"v":0.3,"w":-2.4,"c":-0.3},{"v":0.6,"w":-2.4,"c":-1},{"v":0.9,"w":-2.4,"c":0.5},{"v":1.2,"w":-2.4,"c":1.1},{"v":1.5,"w":-2.4,"c":-0.9},{"v":1.8,"w":-2.4,"c":0.3},{"v":2.1,"w":-2.4,"c":1.5},{"v":2.4,"w":-2.4,"c":-0.2},{"v":2.7,"w":-2.4,"c":0.8},{"v":3,"w":-2.4,"c":-1},{"v":3.3,"w":-2.4,"c":0.3},{"v":3.6,"w":-2.4,"c":1},{"v":3.9,"w":-2.4,"c":0.2},
{"v":-3.9,"w":-2.7,"c":-1},{"v":-3.6,"w":-2.7,"c":0.7},{"v":-3.3,"w":-2.7,"c":0.2},{"v":-3,"w":-2.7,"c":1.1},{"v":-2.7,"w":-2.7,"c":-0.9},{"v":-2.4,"w":-2.7,"c":0.3},{"v":-2.1,"w":-2.7,"c":0.8},{"v":-1.8,"w":-2.7,"c":-0.4},{"v":-1.5,"w":-2.7,"c":1},{"v":-1.2,"w":-2.7,"c":-1},{"v":-0.9,"w":-2.7,"c":0.2},{"v":-0.6,"w":-2.7,"c":1.3},{"v":-0.3,"w":-2.7,"c":-0.5},{"v":0,"w":-2.7,"c":0.3},{"v":0.3,"w":-2.7,"c":1},{"v":0.6,"w":-2.7,"c":0.4},{"v":0.9,"w":-2.7,"c":-0.8},{"v":1.2,"w":-2.7,"c":0.3},{"v":1.5,"w":-2.7,"c":0.9},{"v":1.8,"w":-2.7,"c":-0.6},{"v":2.1,"w":-2.7,"c":0.2},{"v":2.4,"w":-2.7,"c":1},{"v":2.7,"w":-2.7,"c":0.4},{"v":3,"w":-2.7,"c":0.8},{"v":3.3,"w":-2.7,"c":-0.7},{"v":3.6,"w":-2.7,"c":0.5},{"v":3.9,"w":-2.7,"c":1.1},
{"v":-3.9,"w":-3,"c":0.4},{"v":-3.6,"w":-3,"c":-0.8},{"v":-3.3,"w":-3,"c":0.6},{"v":-3,"w":-3,"c":-1.2},{"v":-2.7,"w":-3,"c":0.4},{"v":-2.4,"w":-3,"c":1.2},{"v":-2.1,"w":-3,"c":-0.3},{"v":-1.8,"w":-3,"c":0.5},{"v":-1.5,"w":-3,"c":-1.1},{"v":-1.2,"w":-3,"c":0.6},{"v":-0.9,"w":-3,"c":1},{"v":-0.6,"w":-3,"c":-0.6},{"v":-0.3,"w":-3,"c":0.3},{"v":0,"w":-3,"c":-0.2},{"v":0.3,"w":-3,"c":0.5},{"v":0.6,"w":-3,"c":1.3},{"v":0.9,"w":-3,"c":0.2},{"v":1.2,"w":-3,"c":-0.9},{"v":1.5,"w":-3,"c":0.4},{"v":1.8,"w":-3,"c":1.2},{"v":2.1,"w":-3,"c":0.5},{"v":2.4,"w":-3,"c":-0.7},{"v":2.7,"w":-3,"c":1},{"v":3,"w":-3,"c":0.2},{"v":3.3,"w":-3,"c":1.3},{"v":3.6,"w":-3,"c":-0.4},{"v":3.9,"w":-3,"c":0.3},
{"v":-3.9,"w":-3.3,"c":-0.5},{"v":-3.6,"w":-3.3,"c":1},{"v":-3.3,"w":-3.3,"c":-0.9},{"v":-3,"w":-3.3,"c":0.3},{"v":-2.7,"w":-3.3,"c":1.3},{"v":-2.4,"w":-3.3,"c":-0.4},{"v":-2.1,"w":-3.3,"c":0.9},{"v":-1.8,"w":-3.3,"c":-1},{"v":-1.5,"w":-3.3,"c":0.2},{"v":-1.2,"w":-3.3,"c":1.1},{"v":-0.9,"w":-3.3,"c":-0.7},{"v":-0.6,"w":-3.3,"c":0.4},{"v":-0.3,"w":-3.3,"c":1},{"v":0,"w":-3.3,"c":0.5},{"v":0.3,"w":-3.3,"c":-0.8},{"v":0.6,"w":-3.3,"c":0.3},{"v":0.9,"w":-3.3,"c":1.2},{"v":1.2,"w":-3.3,"c":0.4},{"v":1.5,"w":-3.3,"c":-0.6},{"v":1.8,"w":-3.3,"c":0.8},{"v":2.1,"w":-3.3,"c":-0.3},{"v":2.4,"w":-3.3,"c":1.1},{"v":2.7,"w":-3.3,"c":0.2},{"v":3,"w":-3.3,"c":-0.9},{"v":3.3,"w":-3.3,"c":0.5},{"v":3.6,"w":-3.3,"c":1.4},{"v":3.9,"w":-3.3,"c":-0.2},
{"v":-3.9,"w":-3.6,"c":0.8},{"v":-3.6,"w":-3.6,"c":-0.3},{"v":-3.3,"w":-3.6,"c":1.1},{"v":-3,"w":-3.6,"c":0.4},{"v":-2.7,"w":-3.6,"c":-1},{"v":-2.4,"w":-3.6,"c":0.6},{"v":-2.1,"w":-3.6,"c":1.4},{"v":-1.8,"w":-3.6,"c":-0.3},{"v":-1.5,"w":-3.6,"c":0.7},{"v":-1.2,"w":-3.6,"c":-1.2},{"v":-0.9,"w":-3.6,"c":0.3},{"v":-0.6,"w":-3.6,"c":1.2},{"v":-0.3,"w":-3.6,"c":-0.5},{"v":0,"w":-3.6,"c":0.8},{"v":0.3,"w":-3.6,"c":0.2},{"v":0.6,"w":-3.6,"c":-0.7},{"v":0.9,"w":-3.6,"c":0.6},{"v":1.2,"w":-3.6,"c":1.3},{"v":1.5,"w":-3.6,"c":0.3},{"v":1.8,"w":-3.6,"c":-0.8},{"v":2.1,"w":-3.6,"c":0.9},{"v":2.4,"w":-3.6,"c":0.3},{"v":2.7,"w":-3.6,"c":1.5},{"v":3,"w":-3.6,"c":0.4},{"v":3.3,"w":-3.6,"c":-0.6},{"v":3.6,"w":-3.6,"c":0.7},{"v":3.9,"w":-3.6,"c":1},
{"v":-3.9,"w":-3.9,"c":-0.3},{"v":-3.6,"w":-3.9,"c":0.6},{"v":-3.3,"w":-3.9,"c":-1.2},{"v":-3,"w":-3.9,"c":0.9},{"v":-2.7,"w":-3.9,"c":0.3},{"v":-2.4,"w":-3.9,"c":1.1},{"v":-2.1,"w":-3.9,"c":-1.5},{"v":-1.8,"w":-3.9,"c":0.4},{"v":-1.5,"w":-3.9,"c":1},{"v":-1.2,"w":-3.9,"c":0.2},{"v":-0.9,"w":-3.9,"c":-0.8},{"v":-0.6,"w":-3.9,"c":0.5},{"v":-0.3,"w":-3.9,"c":1.2},{"v":0,"w":-3.9,"c":0.3},{"v":0.3,"w":-3.9,"c":-0.6},{"v":0.6,"w":-3.9,"c":1},{"v":0.9,"w":-3.9,"c":0.4},{"v":1.2,"w":-3.9,"c":-0.9},{"v":1.5,"w":-3.9,"c":0.7},{"v":1.8,"w":-3.9,"c":1.1},{"v":2.1,"w":-3.9,"c":0.2},{"v":2.4,"w":-3.9,"c":0.9},{"v":2.7,"w":-3.9,"c":-1},{"v":3,"w":-3.9,"c":0.5},{"v":3.3,"w":-3.9,"c":1.3},{"v":3.6,"w":-3.9,"c":0.3},{"v":3.9,"w":-3.9,"c":2.4}
]
},
"concat":[
{"width":141,"height":141,"resolve":{"scale":{"x":"independent","color":"independent"},"axis":{"x":"independent","y":"independent"}},"layer":[
{"data":{"name":"armsA"},"mark":"area","encoding":{"x":{"field":"v","type":"quantitative","scale":{"domain":[-4,4],"nice":false},"axis":{"values":[-4,-2,0,2,4],"labelExpr":"''+datum.value","tickSize":3,"labelPadding":2,"title":"v","titleFontStyle":"italic","titleFontSize":14,"titlePadding":0}},"y":{"field":"lo","type":"quantitative","scale":{"domain":[-4,4],"nice":false},"axis":{"values":[-4,-2,0,2,4],"labelExpr":"''+datum.value","tickSize":3,"labelPadding":2,"title":"w","titleFontStyle":"italic","titleFontSize":14,"titleX":-14.5}},"y2":{"field":"hi"},"color":{"field":"c","type":"quantitative","scale":{"domain":[-1,1],"range":["#2040ff","#ff0000"]},"legend":null},"detail":{"field":"arm"}}},
{"data":{"name":"labels"},"transform":[{"filter":"datum.p=='a'&&datum.k=='u'"}],"mark":{"type":"text","align":"left"},"encoding":{"x":{"field":"v","type":"quantitative","scale":{"domain":[-4,4],"nice":false},"axis":{"orient":"top","values":[-4,-2,0,2,4],"labels":false,"tickSize":3,"title":null,"domainColor":"#777"}},"y":{"field":"w","type":"quantitative","axis":{"orient":"right","values":[-4,-2,0,2,4],"labels":false,"tickSize":3,"title":null,"domainColor":"#777"}},"text":{"field":"t"}}},
{"data":{"name":"labels"},"transform":[{"filter":"datum.p=='a'&&datum.k=='i'"}],"mark":{"type":"text","fontStyle":"italic"},"encoding":{"x":{"field":"v","type":"quantitative","scale":{"domain":[-4,4],"nice":false},"axis":null},"y":{"field":"w","type":"quantitative","axis":null},"text":{"field":"t"}}},
{"data":{"name":"bar1"},"mark":{"type":"rect","color":{"gradient":"linear","x1":0,"x2":1,"y1":0,"y2":0,"stops":[{"offset":0,"color":"#2040ff"},{"offset":0.2,"color":"#2a48ff"},{"offset":0.35,"color":"#8a9cff"},{"offset":0.47,"color":"#ffffff"},{"offset":0.53,"color":"#ffffff"},{"offset":0.65,"color":"#ff9ab8"},{"offset":0.8,"color":"#ff2a40"},{"offset":1,"color":"#ff0000"}]}},"encoding":{"x":{"field":"lo","type":"quantitative","scale":{"domain":[-1.41,1.41],"nice":false},"axis":{"orient":"top","offset":13,"values":[-1,0,1],"labelExpr":"''+datum.value","domain":false,"tickSize":3,"labelPadding":1,"title":"C₋","titleFontStyle":"italic","titleFontSize":16,"titlePadding":-2}},"x2":{"field":"hi"},"y":{"datum":4.74,"type":"quantitative","axis":null},"y2":{"datum":4.4}}}
]},
{"width":141,"height":141,"resolve":{"scale":{"x":"independent","color":"independent"},"axis":{"x":"independent","y":"independent"}},"layer":[
{"data":{"name":"armsC"},"mark":"area","encoding":{"x":{"field":"v","type":"quantitative","scale":{"domain":[-4,4],"nice":false},"axis":{"values":[-4,-2,0,2,4],"labelExpr":"''+datum.value","tickSize":3,"labelPadding":2,"title":"v","titleFontStyle":"italic","titleFontSize":14,"titlePadding":0}},"y":{"field":"lo","type":"quantitative","scale":{"domain":[-4,4],"nice":false},"axis":{"values":[-4,-2,0,2,4],"labelExpr":"''+datum.value","tickSize":3,"labelPadding":2,"title":"w","titleFontStyle":"italic","titleFontSize":14,"titleX":-14.5}},"y2":{"field":"hi"},"color":{"field":"c","type":"quantitative","scale":{"domain":[-1,1],"range":["#2040ff","#ff0000"]},"legend":null},"detail":{"field":"arm"}}},
{"data":{"name":"labels"},"transform":[{"filter":"datum.p=='c'&&datum.k=='u'"}],"mark":{"type":"text","align":"left"},"encoding":{"x":{"field":"v","type":"quantitative","scale":{"domain":[-4,4],"nice":false},"axis":{"orient":"top","values":[-4,-2,0,2,4],"labels":false,"tickSize":3,"title":null,"domainColor":"#777"}},"y":{"field":"w","type":"quantitative","axis":{"orient":"right","values":[-4,-2,0,2,4],"labels":false,"tickSize":3,"title":null,"domainColor":"#777"}},"text":{"field":"t"}}},
{"data":{"name":"labels"},"transform":[{"filter":"datum.p=='c'&&datum.k=='i'"}],"mark":{"type":"text","fontStyle":"italic"},"encoding":{"x":{"field":"v","type":"quantitative","scale":{"domain":[-4,4],"nice":false},"axis":null},"y":{"field":"w","type":"quantitative","axis":null},"text":{"field":"t"}}},
{"data":{"name":"labels"},"transform":[{"filter":"datum.p=='c'&&datum.k=='s'"}],"mark":{"type":"text","fontStyle":"italic","fontSize":9,"align":"left"},"encoding":{"x":{"field":"v","type":"quantitative","scale":{"domain":[-4,4],"nice":false},"axis":null},"y":{"field":"w","type":"quantitative","axis":null},"text":{"field":"t"}}},
{"data":{"name":"bar1"},"mark":{"type":"rect","color":{"gradient":"linear","x1":0,"x2":1,"y1":0,"y2":0,"stops":[{"offset":0,"color":"#2040ff"},{"offset":0.2,"color":"#2a48ff"},{"offset":0.35,"color":"#8a9cff"},{"offset":0.47,"color":"#ffffff"},{"offset":0.53,"color":"#ffffff"},{"offset":0.65,"color":"#ff9ab8"},{"offset":0.8,"color":"#ff2a40"},{"offset":1,"color":"#ff0000"}]}},"encoding":{"x":{"field":"lo","type":"quantitative","scale":{"domain":[-1.41,1.41],"nice":false},"axis":{"orient":"top","offset":13,"values":[-1,0,1],"labelExpr":"''+datum.value","domain":false,"tickSize":3,"labelPadding":1,"title":"C₋","titleFontStyle":"italic","titleFontSize":16,"titlePadding":-2}},"x2":{"field":"hi"},"y":{"datum":4.74,"type":"quantitative","axis":null},"y2":{"datum":4.4}}}
]},
{"width":141,"height":141,"resolve":{"scale":{"x":"independent","color":"independent"},"axis":{"x":"independent","y":"independent"}},"layer":[
{"data":{"name":"noise"},"mark":{"type":"rect","width":5.4,"height":5.4},"encoding":{"x":{"field":"v","type":"quantitative","scale":{"domain":[-4,4],"nice":false},"axis":{"values":[-4,-2,0,2,4],"labelExpr":"''+datum.value","tickSize":3,"labelPadding":2,"title":"v","titleFontStyle":"italic","titleFontSize":14,"titlePadding":0}},"y":{"field":"w","type":"quantitative","scale":{"domain":[-4,4],"nice":false},"axis":{"values":[-4,-2,0,2,4],"labelExpr":"''+datum.value","tickSize":3,"labelPadding":2,"title":"w","titleFontStyle":"italic","titleFontSize":14,"titleX":-14.5}},"color":{"field":"c","type":"quantitative","scale":{"domain":[-2.6,0,2.6],"range":["#2040ff","#ffffff","#ff0000"],"interpolate":"rgb"},"legend":null}}},
{"data":{"name":"boxes"},"mark":{"type":"rect","color":"white","opacity":0.95},"encoding":{"x":{"field":"a","type":"quantitative","scale":{"domain":[-4,4],"nice":false},"axis":null},"x2":{"field":"b"},"y":{"field":"l","type":"quantitative","axis":null},"y2":{"field":"h"}}},
{"data":{"name":"labels"},"transform":[{"filter":"datum.p=='b'&&datum.k=='u'"}],"mark":{"type":"text","align":"left"},"encoding":{"x":{"field":"v","type":"quantitative","scale":{"domain":[-4,4],"nice":false},"axis":{"orient":"top","values":[-4,-2,0,2,4],"labels":false,"tickSize":3,"title":null,"domainColor":"#777"}},"y":{"field":"w","type":"quantitative","axis":{"orient":"right","values":[-4,-2,0,2,4],"labels":false,"tickSize":3,"title":null,"domainColor":"#777"}},"text":{"field":"t"}}},
{"data":{"name":"labels"},"transform":[{"filter":"datum.p=='b'&&datum.k=='i'"}],"mark":{"type":"text","fontStyle":"italic"},"encoding":{"x":{"field":"v","type":"quantitative","scale":{"domain":[-4,4],"nice":false},"axis":null},"y":{"field":"w","type":"quantitative","axis":null},"text":{"field":"t"}}},
{"data":{"name":"bar2"},"mark":{"type":"rect","color":{"gradient":"linear","x1":0,"x2":1,"y1":0,"y2":0,"stops":[{"offset":0,"color":"#2040ff"},{"offset":0.2,"color":"#2a48ff"},{"offset":0.35,"color":"#8a9cff"},{"offset":0.47,"color":"#ffffff"},{"offset":0.53,"color":"#ffffff"},{"offset":0.65,"color":"#ff9ab8"},{"offset":0.8,"color":"#ff2a40"},{"offset":1,"color":"#ff0000"}]}},"encoding":{"x":{"field":"lo","type":"quantitative","scale":{"domain":[-3.667,3.667],"nice":false},"axis":{"orient":"top","offset":13,"values":[-2,0,2],"labelExpr":"datum.value==0?'0':datum.value<0?'-2 x10⁻¹⁴':'2 x10⁻¹⁴'","domain":false,"tickSize":3,"labelPadding":1,"title":"C₋","titleFontStyle":"italic","titleFontSize":16,"titlePadding":-2}},"x2":{"field":"hi"},"y":{"datum":4.74,"type":"quantitative","axis":null},"y2":{"datum":4.4}}}
]},
{"width":141,"height":141,"resolve":{"scale":{"x":"independent","color":"independent"},"axis":{"x":"independent","y":"independent"}},"layer":[
{"data":{"name":"armsD"},"mark":"area","encoding":{"x":{"field":"v","type":"quantitative","scale":{"domain":[-4,4],"nice":false},"axis":{"values":[-4,-2,0,2,4],"labelExpr":"''+datum.value","tickSize":3,"labelPadding":2,"title":"v","titleFontStyle":"italic","titleFontSize":14,"titlePadding":0}},"y":{"field":"lo","type":"quantitative","scale":{"domain":[-4,4],"nice":false},"axis":{"values":[-4,-2,0,2,4],"labelExpr":"''+datum.value","tickSize":3,"labelPadding":2,"title":"w","titleFontStyle":"italic","titleFontSize":14,"titleX":-14.5}},"y2":{"field":"hi"},"color":{"field":"c","type":"quantitative","scale":{"domain":[-1,1],"range":["#2040ff","#ff0000"]},"legend":null},"detail":{"field":"arm"}}},
{"data":{"name":"labels"},"transform":[{"filter":"datum.p=='d'&&datum.k=='u'"}],"mark":{"type":"text","align":"left"},"encoding":{"x":{"field":"v","type":"quantitative","scale":{"domain":[-4,4],"nice":false},"axis":{"orient":"top","values":[-4,-2,0,2,4],"labels":false,"tickSize":3,"title":null,"domainColor":"#777"}},"y":{"field":"w","type":"quantitative","axis":{"orient":"right","values":[-4,-2,0,2,4],"labels":false,"tickSize":3,"title":null,"domainColor":"#777"}},"text":{"field":"t"}}},
{"data":{"name":"labels"},"transform":[{"filter":"datum.p=='d'&&datum.k=='i'"}],"mark":{"type":"text","fontStyle":"italic"},"encoding":{"x":{"field":"v","type":"quantitative","scale":{"domain":[-4,4],"nice":false},"axis":null},"y":{"field":"w","type":"quantitative","axis":null},"text":{"field":"t"}}},
{"data":{"name":"labels"},"transform":[{"filter":"datum.p=='d'&&datum.k=='s'"}],"mark":{"type":"text","fontStyle":"italic","fontSize":9,"align":"left"},"encoding":{"x":{"field":"v","type":"quantitative","scale":{"domain":[-4,4],"nice":false},"axis":null},"y":{"field":"w","type":"quantitative","axis":null},"text":{"field":"t"}}},
{"data":{"name":"bar1"},"mark":{"type":"rect","color":{"gradient":"linear","x1":0,"x2":1,"y1":0,"y2":0,"stops":[{"offset":0,"color":"#2040ff"},{"offset":0.2,"color":"#2a48ff"},{"offset":0.35,"color":"#8a9cff"},{"offset":0.47,"color":"#ffffff"},{"offset":0.53,"color":"#ffffff"},{"offset":0.65,"color":"#ff9ab8"},{"offset":0.8,"color":"#ff2a40"},{"offset":1,"color":"#ff0000"}]}},"encoding":{"x":{"field":"lo","type":"quantitative","scale":{"domain":[-1.41,1.41],"nice":false},"axis":{"orient":"top","offset":13,"values":[-1,0,1],"labelExpr":"''+datum.value","domain":false,"tickSize":3,"labelPadding":1,"title":"C₋","titleFontStyle":"italic","titleFontSize":16,"titlePadding":-2}},"x2":{"field":"hi"},"y":{"datum":4.74,"type":"quantitative","axis":null},"y2":{"datum":4.4}}}
]}
]}
